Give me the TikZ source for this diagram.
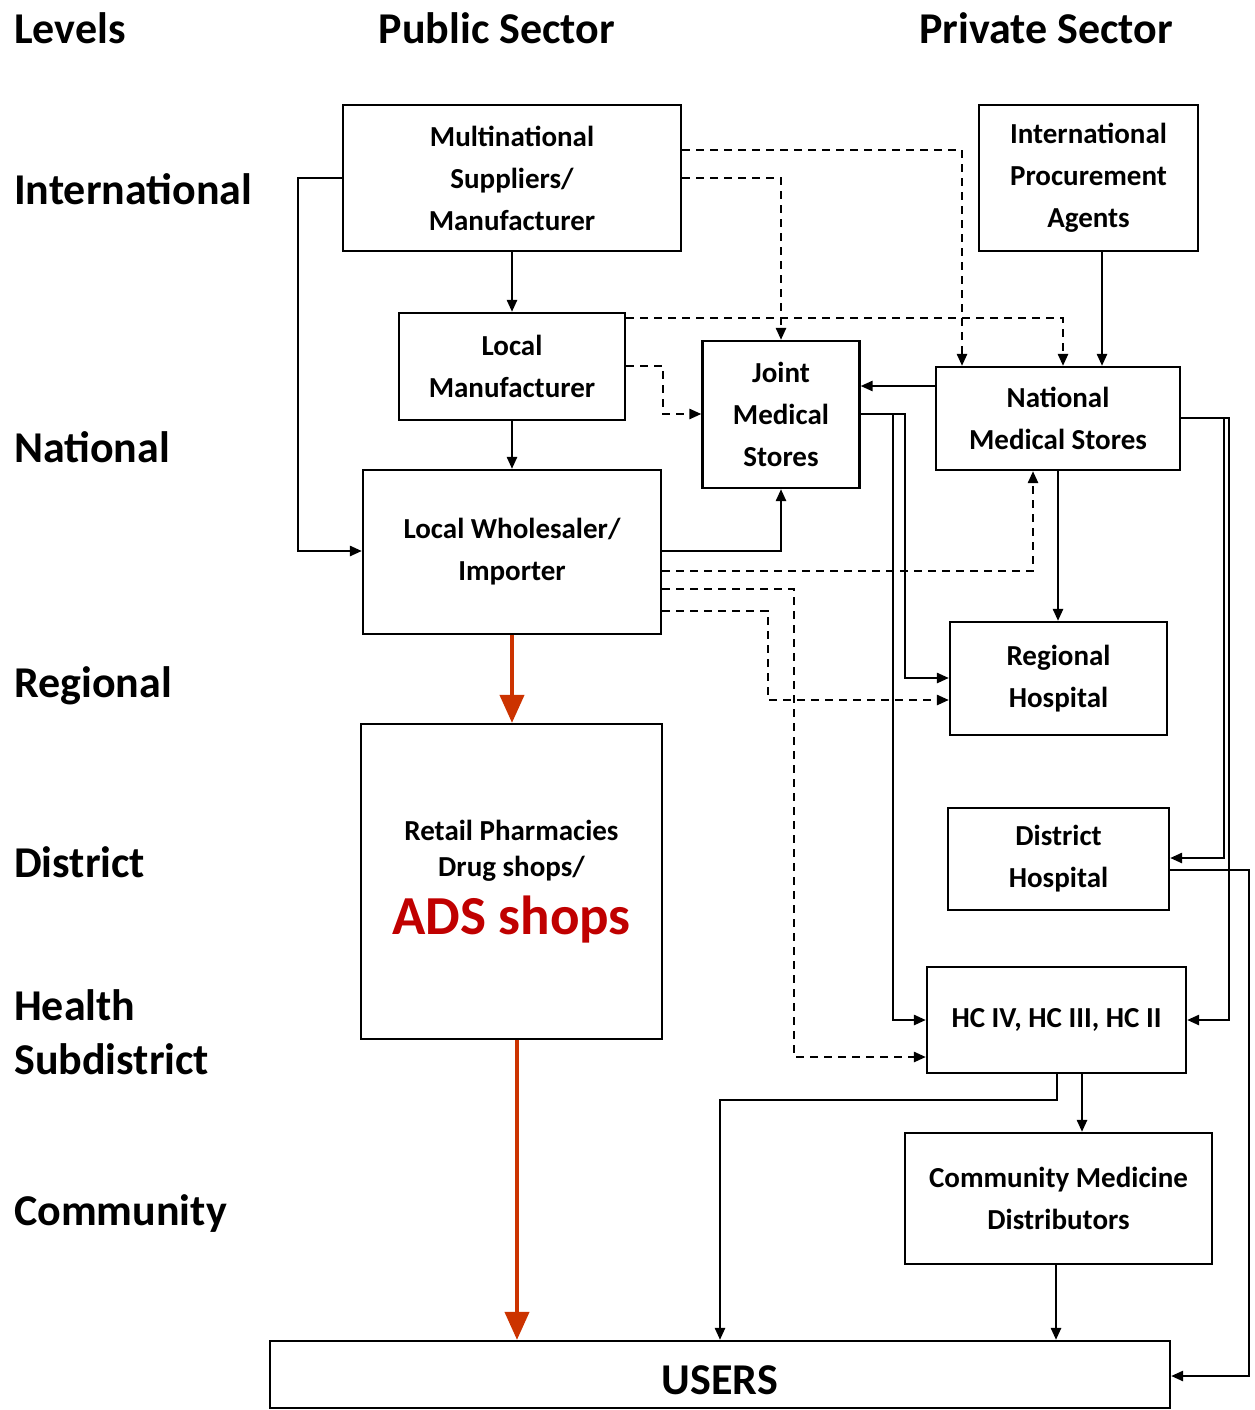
\documentclass[tikz,border=0pt]{standalone}
\usepackage{fontspec}
\setmainfont{Carlito}
\usetikzlibrary{arrows.meta}
\definecolor{redline}{HTML}{CC3300}
\definecolor{adsred}{HTML}{C00000}
\begin{document}
\begin{tikzpicture}[x=1pt,y=-1pt,
 box/.style={draw,line width=2.2pt,inner sep=0pt,align=center,font=\fontsize{29}{42}\selectfont\bfseries},
 con/.style={line width=2.5pt,-{Triangle[length=12pt,width=10pt]}},
 dsh/.style={con,dash pattern=on 8pt off 6pt},
 redarr/.style={draw=redline,line width=4pt,-{Triangle[length=28pt,width=24pt,fill=redline]}},
 lvl/.style={anchor=west,font=\fontsize{44}{54}\selectfont\bfseries,inner sep=0pt,align=left},
 hdr/.style={font=\fontsize{44}{50}\selectfont\bfseries,inner sep=0pt}]
\useasboundingbox (0,0) rectangle (1254,1410);

% headers and levels
\node[lvl] (lvlev) at (14,28) {Levels};
\node[hdr] (pub) at (497,28) {Public Sector};
\node[hdr] (priv) at (1046,28) {Private Sector};
\node[lvl] (lint) at (14,189) {International};
\node[lvl] (lnat) at (14,447) {National};
\node[lvl] (lreg) at (14,686) {Regional};
\node[lvl] (ldis) at (14,862) {District};
\node[lvl] (lhsd) at (14,1032) {Health\\Subdistrict};
\node[lvl] (lcom) at (14,1214) {Community};

% boxes
\node[box,minimum width=338pt,minimum height=146pt] (ms) at (512,178) {Multinational\\Suppliers/\\Manufacturer};
\node[box,minimum width=219pt,minimum height=146pt] (ipa) at (1088.5,178) {International\\Procurement\\Agents};
\node[box,minimum width=226pt,minimum height=107pt] (lm) at (512,366.5) {Local\\Manufacturer};
\node[box,minimum width=157pt,minimum height=147pt] (jms) at (781,414.5) {Joint\\Medical\\Stores};
\node[box,minimum width=244pt,minimum height=103pt] (nms) at (1058,418.5) {National\\Medical Stores};
\node[box,minimum width=298pt,minimum height=164pt] (lw) at (512,552) {Local Wholesaler/\\Importer};
\node[box,minimum width=217pt,minimum height=113pt] (rh) at (1058.5,678.5) {Regional\\Hospital};
\node[box,minimum width=301pt,minimum height=315pt,font=\fontsize{29}{36}\selectfont\bfseries] (rp) at (511.5,881.5) {Retail Pharmacies\\Drug shops/\\[14pt]{\color{adsred}\fontsize{55}{60}\selectfont ADS shops}};
\node[box,minimum width=221pt,minimum height=102pt] (dh) at (1058.5,859) {District\\Hospital};
\node[box,minimum width=259pt,minimum height=106pt] (hc) at (1056.5,1020) {HC IV, HC III, HC II};
\node[box,minimum width=307pt,minimum height=131pt] (cmd) at (1058.5,1198.5) {Community Medicine\\Distributors};
\node[box,minimum width=900pt,minimum height=67pt,text height=40pt,font=\fontsize{44}{50}\selectfont\bfseries] (users) at (720,1374.5) {USERS};

% solid connectors
\draw[con] (ms.west |- 0,178) -| (298,551) -- (lw.west |- 0,551);
\draw[con] (ms.south) -- (ms.south |- lm.north);
\draw[con] (lm.south) -- (lm.south |- lw.north);
\draw[con] (1102,0 |- ipa.south) -- (1102,0 |- nms.north);
\draw[con] (nms.west |- 0,386) -- (jms.east |- 0,386);
\draw[con] (lw.east |- 0,551) -| (jms.south);
\draw[con] (jms.east |- 0,414) -| (893,1020) -- (hc.west |- 0,1020);
\draw[con] (jms.east |- 0,414) -| (905,678) -- (rh.west |- 0,678);
\draw[con] (nms.south) -- (nms.south |- rh.north);
\draw[con] (nms.east |- 0,418) -| (1224,858) -- (dh.east |- 0,858);
\draw[con] (nms.east |- 0,418) -| (1229,1020) -- (hc.east |- 0,1020);
\draw[con] (dh.east |- 0,870) -| (1249,1376) -- (users.east |- 0,1376);
\draw[con] (1057,0 |- hc.south) |- (720,1100) -- (720,0 |- users.north);
\draw[con] (1082,0 |- hc.south) -- (1082,0 |- cmd.north);
\draw[con] (1056,0 |- cmd.south) -- (1056,0 |- users.north);

% dashed connectors
\draw[dsh] (ms.east |- 0,150) -| (962,0 |- nms.north);
\draw[dsh] (ms.east |- 0,178) -| (jms.north);
\draw[dsh] (lm.east |- 0,318) -| (1063,0 |- nms.north);
\draw[dsh] (lm.east |- 0,366) -| (663,414) -- (jms.west |- 0,414);
\draw[dsh] (lw.east |- 0,571) -| (1033,0 |- nms.south);
\draw[dsh] (lw.east |- 0,589) -| (794,1057) -- (hc.west |- 0,1057);
\draw[dsh] (lw.east |- 0,611) -| (768,700) -- (rh.west |- 0,700);

% red arrows
\draw[redarr] (lw.south) -- (lw.south |- rp.north);
\draw[redarr] (517,0 |- rp.south) -- (517,0 |- users.north);
\end{tikzpicture}
\end{document}
